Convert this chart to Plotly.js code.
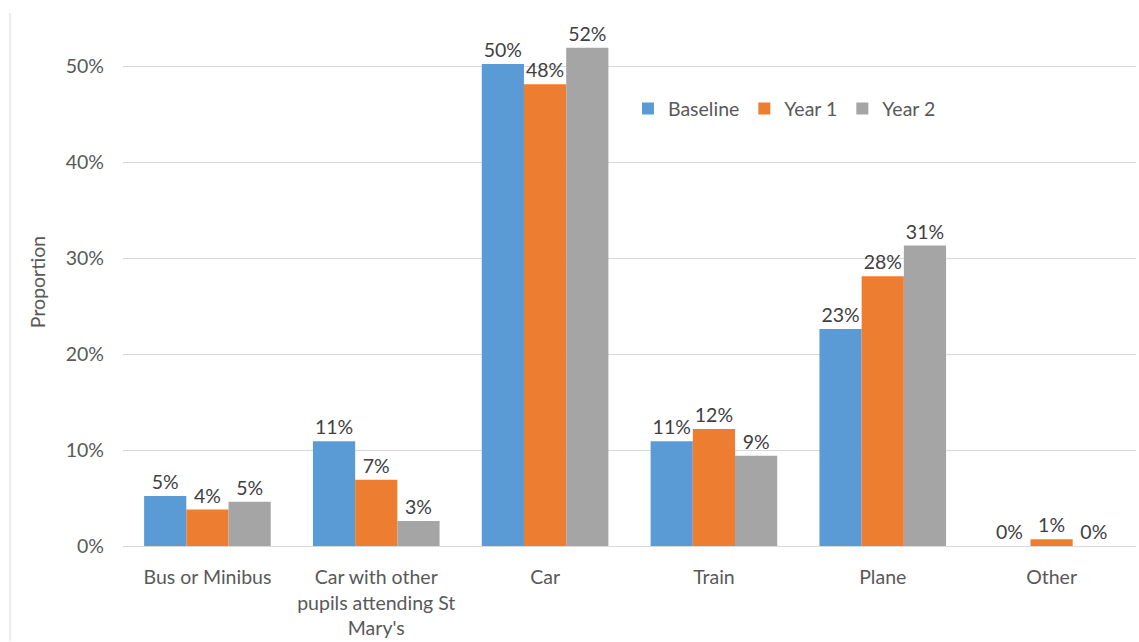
<!DOCTYPE html>
<html>
<head>
<meta charset="utf-8">
<script src="https://cdn.plot.ly/plotly-3.0.1.min.js"></script>
<style>html,body{margin:0;padding:0;background:#fff;}#chart{width:1139px;height:642px;}</style>
</head>
<body>
<div id="chart"></div>
<script>
const categories = ["Bus or Minibus", "Car with other<br>pupils attending St<br>Mary's", "Car", "Train", "Plane", "Other"];
const baseline = [0.052, 0.109, 0.502, 0.109, 0.226, 0.0];
const year1 = [0.038, 0.069, 0.481, 0.122, 0.281, 0.007];
const year2 = [0.046, 0.026, 0.519, 0.094, 0.313, 0.0];
const seriesNames = ["Baseline", "Year 1", "Year 2"];
const colors = ["#5B9BD5", "#ED7D31", "#A5A5A5"];

const FONT = "Lato, 'Open Sans', sans-serif";
const FS = 19.5;
const data = [baseline, year1, year2].map((vals, i) => ({
  type: 'bar',
  name: seriesNames[i],
  x: categories,
  y: vals,
  marker: {color: colors[i]},
  texttemplate: '%{y:.0%}',
  textposition: 'outside',
  cliponaxis: false,
  textfont: {family: FONT, size: FS, color: '#404040'},
  hoverinfo: 'none'
}));

const layout = {
  width: 1139, height: 642,
  margin: {l: 123, r: 3, t: 18, b: 96},
  paper_bgcolor: '#fff', plot_bgcolor: '#fff',
  font: {family: FONT, size: FS, color: '#595959'},
  barmode: 'group',
  bargap: 0.25,
  bargroupgap: 0,
  showlegend: true,
  legend: {orientation: 'h', x: 0.4985, y: 0.828, xanchor: 'left', yanchor: 'middle',
           font: {family: FONT, size: FS, color: '#595959'}, itemwidth: 30, itemgap: 2, traceorder: 'normal'},
  xaxis: {type: 'category', showline: true, linecolor: '#d9d9d9', linewidth: 1,
          ticks: '', ticklabelstandoff: 14, tickfont: {family: FONT, size: FS, color: '#595959'}, automargin: false},
  yaxis: {range: [0, 0.55], tickvals: [0, 0.1, 0.2, 0.3, 0.4, 0.5], tickformat: '.0%',
          showgrid: true, gridcolor: '#d9d9d9', gridwidth: 1, zeroline: false, showline: false,
          ticks: '', ticklabelstandoff: 18, tickfont: {family: FONT, size: FS, color: '#595959'},
          title: {text: 'Proportion', font: {family: FONT, size: FS, color: '#595959'}, standoff: 14},
          automargin: false},
  shapes: [{type: 'line', xref: 'paper', yref: 'paper',
            x0: (10 - 123) / 1013, x1: (10 - 123) / 1013,
            y0: (546 - 641) / 528, y1: (546 - 13) / 528,
            line: {color: '#d9d9d9', width: 1}}]
};

Plotly.newPlot('chart', data, layout, {staticPlot: true});
</script>
</body>
</html>
